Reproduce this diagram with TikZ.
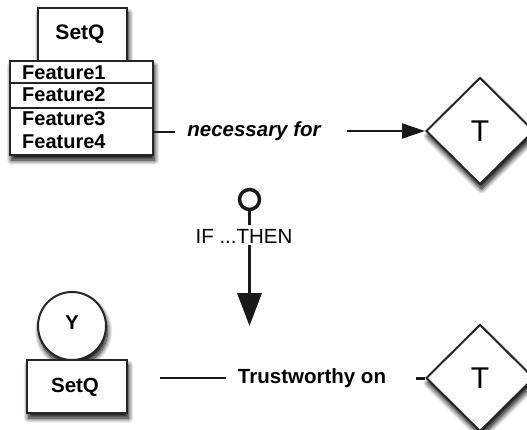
\documentclass[tikz,border=0pt]{standalone}
\usepackage{fontspec}
\setmainfont{Liberation Sans}
\usetikzlibrary{shapes.geometric,arrows.meta,shadows.blur}
\begin{document}
\begin{tikzpicture}[x=1pt,y=-1pt,
  soft/.style={blur shadow={shadow xshift=1.5pt,shadow yshift=-5pt,shadow blur steps=12,shadow blur radius=5pt,shadow opacity=100}},
  boxline/.style={draw=black!85,line width=2pt,fill=white},
  lbl/.style={font=\bfseries\fontsize{20}{20}\selectfont,inner sep=0pt},
  feat/.style={lbl,anchor=base west},
  tdiam/.style={boxline,soft,diamond,inner sep=0pt,minimum width=108pt,minimum height=107pt,font=\fontsize{30}{30}\selectfont},
  conn/.style={line width=2pt,draw=black!90}]
\useasboundingbox (0,0) rectangle (527,430);

% upper group: SetQ with its feature table
\draw[boxline,soft] (38,8) rectangle (127,61);
\node[lbl,font=\bfseries\fontsize{21}{21}\selectfont] (setq1) at (80,34) {SetQ};
\draw[boxline,soft] (10,61) rectangle (153,155);
\draw[boxline] (10,61) rectangle (153,155);
\draw[line width=2pt,black!85] (10,83) -- (153,83) (10,108) -- (153,108);
\node[feat] (f1) at (22,80) {Feature1};
\node[feat] (f2) at (22,102) {Feature2};
\node[feat] (f3) at (22,126) {Feature3};
\node[feat] (f4) at (22,149) {Feature4};
\coordinate (tabR) at (153,132);

\node[tdiam] (T1) at (480,131) {T};
\node[lbl,font=\bfseries\itshape\fontsize{20.5}{20.5}\selectfont] (nec) at (254,131) {necessary for};
\draw[conn] (tabR) -- ([xshift=-12pt]nec.west |- tabR);
\draw[conn,-{Triangle[length=23pt,width=15pt]}] ([xshift=26pt]nec.east) -- (T1.west);

% rule arrow
\node[circle,draw=black!90,line width=3.5pt,minimum size=20pt,inner sep=0pt] (ring) at (249.5,199.5) {};
\coordinate (stemEnd) at (249.5,225);
\draw[line width=3.5pt,black!90] (ring.south) -- (stemEnd);
\node[inner sep=0pt,font=\fontsize{20.5}{20.5}\selectfont] (ifthen) at (244,236) {IF ...THEN};
\coordinate (arrStart) at (249.5,245);
\coordinate (arrTip) at (249.5,326);
\draw[line width=3.5pt,black!90,-{Triangle[length=33pt,width=24pt]}] (arrStart) -- (arrTip);

% lower group
\node[boxline,soft,circle,minimum size=68pt,inner sep=0pt] (Y) at (72,326) {};
\node[lbl,font=\bfseries\fontsize{20}{20}\selectfont] (ylab) at (72,323) {Y};
\draw[boxline,soft] (27,360) rectangle (127,413);
\node[lbl,font=\bfseries\fontsize{20.5}{20.5}\selectfont] (setq2) at (75,387) {SetQ};

\node[tdiam] (T2) at (480,378) {T};
\node[lbl,font=\bfseries\fontsize{20.5}{20.5}\selectfont] (trust) at (312,378) {Trustworthy on};
\coordinate (lineL) at (160,378);
\draw[conn] (lineL) -- ([xshift=-12pt]trust.west |- lineL);
\draw[line width=3pt,black!90] ([xshift=-9pt]T2.west) -- (T2.west);
\end{tikzpicture}
\end{document}
